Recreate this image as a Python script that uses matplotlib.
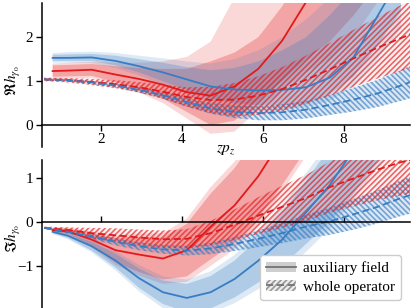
import numpy as np
import matplotlib
matplotlib.use("Agg")
import matplotlib.pyplot as plt
from matplotlib.patches import Patch
from matplotlib.lines import Line2D

plt.rcParams['font.family'] = ['Liberation Serif', 'DejaVu Serif']
plt.rcParams['mathtext.fontset'] = 'stix'
plt.rcParams['hatch.linewidth'] = 1.2

# ---------------- data ----------------
x_aux = [0.8, 1.18, 1.77, 2.36, 2.94, 3.53, 4.12, 4.71, 5.3, 5.89, 6.48, 7.07, 7.66, 8.25, 8.84, 9.42]
x_whole = [0.59, 1.18, 1.77, 2.36, 2.94, 3.53, 4.12, 4.71, 5.3, 5.89, 6.48, 7.07, 7.66, 8.25, 8.84, 9.42, 10.0]

# Real part, auxiliary field
re_red_aux = [1.23, 1.24, 1.26, 1.15, 1.05, 0.92, 0.75, 0.67, 0.88, 1.28, 1.92, 2.8, 3.8, 5.0, 6.0, 7.0]
re_red_aux_lo_in = [1.10, 1.11, 1.12, 0.98, 0.82, 0.60, 0.30, 0.00, 0.10, 0.55, 1.00, 1.50, 1.90, 2.50, 3.20, 4.00]
re_red_aux_hi_in = [1.36, 1.37, 1.39, 1.34, 1.30, 1.28, 1.28, 1.45, 1.65, 2.00, 2.70, 3.60, 4.60, 5.60, 6.60, 7.60]
re_red_aux_lo_out = [1.05, 1.06, 1.07, 0.92, 0.74, 0.50, 0.15, -0.20, -0.15, 0.35, 0.80, 1.20, 1.50, 2.00, 2.80, 3.50]
re_red_aux_hi_out = [1.40, 1.42, 1.44, 1.42, 1.42, 1.45, 1.55, 1.90, 2.90, 3.60, 4.30, 5.00, 6.00, 7.00, 8.00, 9.00]

re_blue_aux = [1.53, 1.53, 1.54, 1.46, 1.34, 1.20, 1.04, 0.88, 0.81, 0.79, 0.80, 0.86, 1.08, 1.55, 2.48, 3.40]
re_blue_aux_lo_in = [1.46, 1.46, 1.46, 1.36, 1.20, 1.00, 0.80, 0.60, 0.50, 0.45, 0.45, 0.50, 0.70, 1.10, 1.80, 2.60]
re_blue_aux_hi_in = [1.60, 1.61, 1.62, 1.58, 1.50, 1.42, 1.32, 1.25, 1.30, 1.45, 1.70, 2.00, 2.50, 3.10, 3.90, 4.80]
re_blue_aux_lo_out = [1.42, 1.42, 1.41, 1.30, 1.13, 0.92, 0.70, 0.50, 0.40, 0.35, 0.35, 0.40, 0.55, 0.90, 1.50, 2.20]
re_blue_aux_hi_out = [1.64, 1.66, 1.67, 1.64, 1.58, 1.52, 1.45, 1.40, 1.50, 1.70, 2.00, 2.40, 2.90, 3.50, 4.30, 5.20]

# Real part, whole operator
re_red_whole = [1.04, 1.02, 0.98, 0.93, 0.86, 0.76, 0.64, 0.57, 0.58, 0.67, 0.82, 1.03, 1.27, 1.52, 1.76, 1.98, 2.20]
re_red_whole_err = [0.04, 0.05, 0.07, 0.09, 0.12, 0.16, 0.22, 0.30, 0.38, 0.44, 0.50, 0.55, 0.60, 0.65, 0.70, 0.75, 0.80]
re_blue_whole = [1.04, 1.02, 0.97, 0.90, 0.80, 0.68, 0.52, 0.38, 0.30, 0.27, 0.29, 0.35, 0.46, 0.58, 0.72, 0.90, 1.10]
re_blue_whole_err = [0.03, 0.03, 0.04, 0.05, 0.06, 0.08, 0.10, 0.12, 0.14, 0.16, 0.18, 0.20, 0.23, 0.27, 0.31, 0.35, 0.40]

# Imaginary part, auxiliary field
im_red_aux = [-0.18, -0.21, -0.40, -0.64, -0.74, -0.83, -0.64, -0.10, 0.38, 1.05, 1.90, 2.80, 3.70, 4.60, 5.50, 6.40]
im_red_aux_err_in = [0.04, 0.06, 0.14, 0.28, 0.40, 0.48, 0.60, 0.75, 0.85, 0.95, 1.05, 1.15, 1.25, 1.35, 1.45, 1.55]
im_red_aux_err_out = [0.06, 0.09, 0.18, 0.34, 0.48, 0.58, 0.72, 0.90, 1.00, 1.10, 1.20, 1.30, 1.40, 1.50, 1.60, 1.70]
im_blue_aux = [-0.22, -0.31, -0.55, -0.88, -1.28, -1.60, -1.73, -1.60, -1.30, -0.88, -0.40, 0.22, 0.85, 1.65, 2.50, 3.30]
im_blue_aux_err_in = [0.03, 0.05, 0.10, 0.16, 0.22, 0.27, 0.32, 0.37, 0.42, 0.50, 0.60, 0.72, 0.85, 1.00, 1.10, 1.20]
im_blue_aux_err_out = [0.05, 0.08, 0.14, 0.22, 0.30, 0.36, 0.42, 0.48, 0.55, 0.65, 0.75, 0.90, 1.00, 1.15, 1.25, 1.35]

# Imaginary part, whole operator
im_red_whole = [-0.13, -0.18, -0.25, -0.30, -0.35, -0.39, -0.38, -0.25, -0.06, 0.15, 0.35, 0.55, 0.80, 1.00, 1.20, 1.37, 1.50]
im_red_whole_err = [0.03, 0.06, 0.12, 0.16, 0.18, 0.20, 0.22, 0.28, 0.35, 0.42, 0.48, 0.53, 0.58, 0.64, 0.70, 0.76, 0.80]
im_blue_whole = [-0.13, -0.22, -0.33, -0.45, -0.55, -0.62, -0.65, -0.60, -0.50, -0.38, -0.25, -0.10, 0.02, 0.18, 0.35, 0.55, 0.72]
im_blue_whole_err = [0.02, 0.04, 0.06, 0.08, 0.09, 0.10, 0.11, 0.13, 0.16, 0.19, 0.23, 0.27, 0.31, 0.35, 0.38, 0.41, 0.44]

x_ticks = [2, 4, 6, 8]
re_ticks = [0, 1, 2]
im_ticks = [-1, 0, 1]
legend_labels = ['auxiliary field', 'whole operator']

# ---------------- style ----------------
RED = np.array([0.89, 0.10, 0.11])
BLUE = np.array([0.22, 0.49, 0.76])

def rgba(c, a):
    return (c[0], c[1], c[2], a)

def aux_bands(ax, x, lo_in, hi_in, lo_out, hi_out, col):
    ax.fill_between(x, lo_out, hi_out, facecolor=rgba(col, 0.17), linewidth=0, zorder=1)
    ax.fill_between(x, lo_in, hi_in, facecolor=rgba(col, 0.27), linewidth=0, zorder=1)

def whole_band(ax, x, c, err, col, hatch, face_a):
    c = np.array(c); err = np.array(err)
    ax.fill_between(x, c - err, c + err, facecolor=rgba(col, face_a),
                    edgecolor=rgba(col, 0.65), hatch=hatch, linewidth=0, zorder=2)

fig = plt.figure(figsize=(4.11, 3.08), dpi=100)
ax1 = fig.add_axes([0.1015, 0.5227, 0.8965, 0.4675])
ax2 = fig.add_axes([0.1015, 0.0, 0.8965, 0.4805])

# top panel
aux_bands(ax1, x_aux, re_red_aux_lo_in, re_red_aux_hi_in,
          re_red_aux_lo_out, re_red_aux_hi_out, RED)
aux_bands(ax1, x_aux, re_blue_aux_lo_in, re_blue_aux_hi_in,
          re_blue_aux_lo_out, re_blue_aux_hi_out, BLUE)
whole_band(ax1, x_whole, re_blue_whole, re_blue_whole_err, BLUE, '\\\\\\\\\\\\', 0.18)
whole_band(ax1, x_whole, re_red_whole, re_red_whole_err, RED, '//////', 0.05)
ax1.plot(x_aux, re_red_aux, color=RED, lw=1.3, zorder=4)
ax1.plot(x_aux, re_blue_aux, color=BLUE, lw=1.3, zorder=4)
ax1.plot(x_whole, re_red_whole, color=RED, lw=1.3, ls=(0, (4, 2)), zorder=4)
ax1.plot(x_whole, re_blue_whole, color=BLUE, lw=1.3, ls=(0, (4, 2)), zorder=4)

# bottom panel
for c, ei, eo, col in [(im_red_aux, im_red_aux_err_in, im_red_aux_err_out, RED),
                       (im_blue_aux, im_blue_aux_err_in, im_blue_aux_err_out, BLUE)]:
    c = np.array(c); ei = np.array(ei); eo = np.array(eo)
    aux_bands(ax2, x_aux, c - ei, c + ei, c - eo, c + eo, col)
whole_band(ax2, x_whole, im_blue_whole, im_blue_whole_err, BLUE, '\\\\\\\\\\\\', 0.18)
whole_band(ax2, x_whole, im_red_whole, im_red_whole_err, RED, '//////', 0.05)
ax2.plot(x_aux, im_red_aux, color=RED, lw=1.3, zorder=4)
ax2.plot(x_aux, im_blue_aux, color=BLUE, lw=1.3, zorder=4)
ax2.plot(x_whole, im_red_whole, color=RED, lw=1.3, ls=(0, (4, 2)), zorder=4)
ax2.plot(x_whole, im_blue_whole, color=BLUE, lw=1.3, ls=(0, (4, 2)), zorder=4)

for ax in (ax1, ax2):
    ax.set_xlim(0.53, 9.65)
    ax.spines['top'].set_visible(False)
    ax.spines['right'].set_visible(False)
    ax.spines['bottom'].set_position(('data', 0))
    ax.spines['left'].set_linewidth(1.1)
    ax.spines['bottom'].set_linewidth(1.1)
    ax.spines['left'].set_zorder(6)
    ax.spines['bottom'].set_zorder(6)
    ax.set_xticks(x_ticks)
    ax.tick_params(labelsize=11, width=1.0, length=4, pad=2)

ax1.set_ylim(-0.5, 2.78)
ax1.set_yticks(re_ticks)
ax1.set_ylabel(r'$\Re h_{\gamma_0}$', fontsize=11)
ax1.yaxis.set_label_coords(-0.052, 0.46)
ax1.set_xlabel(r'$zp_z$', fontsize=11)
ax1.xaxis.set_label_coords(0.5, 0.025)

ax2.set_ylim(-1.96, 1.42)
ax2.set_yticks(im_ticks)
ax2.set_ylabel(r'$\Im h_{\gamma_0}$', fontsize=11)
ax2.yaxis.set_label_coords(-0.052, 0.47)
ax2.tick_params(axis='x', direction='in', labelbottom=False)

gray = np.array([0.45, 0.45, 0.45])
h_aux = (Patch(facecolor=rgba(gray, 0.35), linewidth=0), Line2D([], [], color=gray, lw=1.3))
h_whole = (Patch(facecolor=rgba(gray, 0.12), edgecolor=rgba(gray, 0.7), hatch='//////', linewidth=0),
           Line2D([], [], color=gray, lw=1.3, ls=(0, (4, 2))))
leg = ax2.legend([h_aux, h_whole], legend_labels, loc='lower right', fontsize=11,
                 frameon=True, fancybox=True, framealpha=1, edgecolor='#cccccc',
                 handlelength=2.0, handletextpad=0.4, borderpad=0.4, labelspacing=0.3,
                 bbox_to_anchor=(0.995, 0.005))
leg.set_zorder(10)

fig.savefig('out.png', dpi=100)
